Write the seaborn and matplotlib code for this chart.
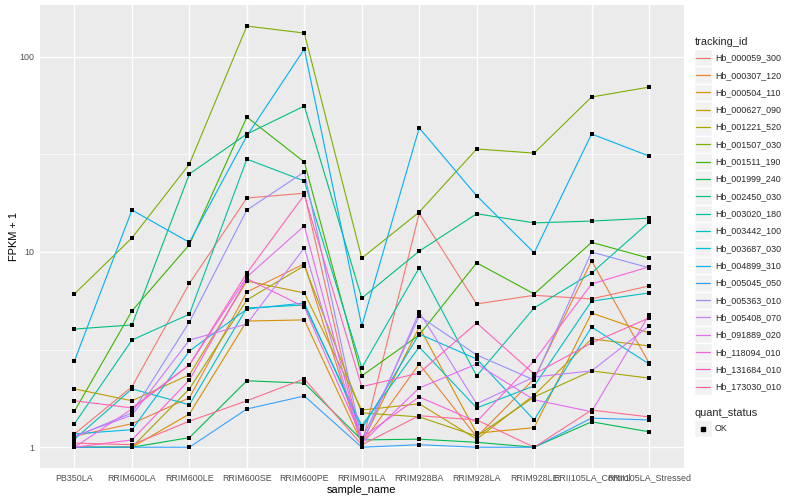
import matplotlib
matplotlib.use("Agg")
import matplotlib.pyplot as plt
from matplotlib.legend_handler import HandlerBase
from matplotlib.lines import Line2D
from matplotlib.patches import Rectangle
from matplotlib.ticker import FixedLocator, NullFormatter
import numpy as np
import pandas as pd
import seaborn as sns

# samples on the x axis, in plot order
samples = ["PB350LA", "RRIM600LA", "RRIM600LE", "RRIM600SE", "RRIM600PE",
           "RRIM901LA", "RRIM928BA", "RRIM928LA", "RRIM928LE",
           "RRII105LA_Control", "RRII105LA_Stressed"]

tracking_ids = ["Hb_000059_300", "Hb_000307_120", "Hb_000504_110", "Hb_000627_090",
                "Hb_001221_520", "Hb_001507_030", "Hb_001511_190", "Hb_001999_240",
                "Hb_002450_030", "Hb_003020_180", "Hb_003442_100", "Hb_003687_030",
                "Hb_004899_310", "Hb_005045_050", "Hb_005363_010", "Hb_005408_070",
                "Hb_091889_020", "Hb_118094_010", "Hb_131684_010", "Hb_173030_010"]

# FPKM + 1, one list per gene (same order as samples)
hb_000059_300 = [1.17, 2.04, 6.9, 18.9, 20.0, 1.03, 15.8, 5.42, 6.0, 5.75, 6.7]
hb_000307_120 = [1.14, 1.32, 1.79, 6.24, 8.7, 1.04, 2.67, 1.13, 2.24, 9.0, 2.7]
hb_000504_110 = [1.0, 1.0, 1.48, 4.43, 4.49, 1.05, 4.13, 1.18, 1.26, 4.87, 3.85]
hb_000627_090 = [1.99, 1.73, 2.35, 7.1, 6.17, 1.55, 1.67, 1.1, 1.85, 3.59, 3.3]
hb_001221_520 = [1.0, 1.0, 1.99, 5.68, 8.5, 1.5, 1.43, 1.14, 1.81, 2.46, 2.26]
hb_001507_030 = [6.1, 11.8, 28.2, 143.6, 132.2, 9.3, 16.0, 33.7, 32.1, 62.2, 69.9]
hb_001511_190 = [1.53, 4.99, 10.9, 49.1, 28.9, 2.32, 3.76, 8.8, 6.1, 11.2, 9.3]
hb_001999_240 = [1.0, 1.0, 1.12, 2.19, 2.13, 1.09, 1.1, 1.06, 1.0, 1.35, 1.2]
hb_002450_030 = [4.03, 4.23, 25.1, 40.2, 55.9, 5.8, 10.1, 15.7, 14.1, 14.4, 14.9]
hb_003020_180 = [1.32, 3.54, 4.8, 29.9, 23.1, 2.55, 8.3, 2.32, 5.17, 7.8, 14.2]
hb_003442_100 = [1.1, 1.99, 1.65, 5.17, 5.35, 1.29, 3.26, 1.59, 2.06, 5.6, 6.17]
hb_003687_030 = [1.17, 1.23, 3.11, 5.1, 5.48, 1.24, 3.8, 2.83, 1.38, 4.13, 2.67]
hb_004899_310 = [2.77, 16.4, 11.2, 39.3, 109.5, 4.18, 43.2, 19.4, 9.9, 40.2, 31.0]
hb_005045_050 = [1.0, 1.0, 1.0, 1.57, 1.83, 1.0, 1.03, 1.0, 1.0, 1.41, 1.38]
hb_005363_010 = [1.13, 1.5, 4.38, 16.4, 25.7, 1.09, 4.7, 2.97, 2.21, 10.0, 8.3]
hb_005408_070 = [1.14, 1.46, 3.54, 4.28, 10.5, 1.03, 4.93, 1.67, 2.29, 2.46, 4.18]
hb_091889_020 = [1.0, 1.57, 2.64, 7.45, 13.6, 1.05, 2.01, 2.67, 1.75, 1.52, 4.76]
hb_118094_010 = [1.0, 1.09, 2.21, 7.3, 5.23, 1.12, 1.81, 1.35, 2.77, 6.86, 8.4]
hb_131684_010 = [1.73, 1.59, 2.64, 7.8, 19.6, 2.04, 2.4, 4.33, 2.37, 3.42, 4.59]
hb_173030_010 = [1.05, 1.03, 1.36, 1.73, 2.24, 1.03, 1.45, 1.38, 1.0, 1.55, 1.43]

series = [hb_000059_300, hb_000307_120, hb_000504_110, hb_000627_090, hb_001221_520,
          hb_001507_030, hb_001511_190, hb_001999_240, hb_002450_030, hb_003020_180,
          hb_003442_100, hb_003687_030, hb_004899_310, hb_005045_050, hb_005363_010,
          hb_005408_070, hb_091889_020, hb_118094_010, hb_131684_010, hb_173030_010]

# ggplot2 default hue palette for 20 levels
palette = ["#F8766D", "#EA8331", "#D89000", "#C09B00", "#A3A500", "#7CAE00", "#39B600",
           "#00BB4E", "#00BF7D", "#00C1A3", "#00BFC4", "#00BAE0", "#00B0F6", "#35A2FF",
           "#9590FF", "#C77CFF", "#E76BF3", "#FA62DB", "#FF62BC", "#FF6C91"]

rows = []
for tid, vals in zip(tracking_ids, series):
    for s, v in zip(samples, vals):
        rows.append({"tracking_id": tid, "sample_name": s, "fpkm": v, "quant_status": "OK"})
df = pd.DataFrame(rows)


class KeyHandler(HandlerBase):
    """ggplot-like legend key: grey box with the glyph on top."""

    def create_artists(self, legend, orig_handle, xdescent, ydescent, width, height,
                       fontsize, trans):
        bg = Rectangle((-xdescent, -ydescent), width, height, facecolor="#F2F2F2",
                       edgecolor="white", linewidth=1.0, transform=trans)
        cy = -ydescent + height / 2
        if orig_handle.get_marker() not in (None, "None", ""):
            glyph = Line2D([-xdescent + width / 2], [cy], marker=orig_handle.get_marker(),
                           markersize=orig_handle.get_markersize(), color="black",
                           linestyle="None", transform=trans)
        else:
            glyph = Line2D([-xdescent + 1, -xdescent + width - 1], [cy, cy],
                           color=orig_handle.get_color(), linewidth=0.9, transform=trans)
        return [bg, glyph]


sns.set_theme(style="darkgrid", rc={"axes.facecolor": "#EBEBEB", "grid.color": "white"})
plt.rcParams["font.family"] = ["Liberation Sans", "DejaVu Sans"]

fig = plt.figure(figsize=(8, 5), dpi=100)
fig.patch.set_facecolor("white")
ax = fig.add_axes([0.05, 0.0634, 0.8044, 0.9266])

sns.lineplot(data=df, x="sample_name", y="fpkm", hue="tracking_id", hue_order=tracking_ids,
             palette=palette, estimator=None, sort=False, linewidth=0.8, legend=False, ax=ax)
sns.scatterplot(data=df, x="sample_name", y="fpkm", color="black", marker="s", s=7,
                linewidth=0, legend=False, ax=ax, zorder=3)

ax.set_yscale("log")
lo, hi = np.log10(df["fpkm"].min()), np.log10(df["fpkm"].max())
pad = 0.05 * (hi - lo)
ax.set_ylim(10 ** (lo - pad), 10 ** (hi + pad))
ax.set_xlim(-0.6, len(samples) - 0.4)
ax.yaxis.set_major_locator(FixedLocator([1, 10, 100]))
ax.set_yticklabels(["1", "10", "100"])
ax.yaxis.set_minor_locator(FixedLocator([10 ** 0.5, 10 ** 1.5]))
ax.yaxis.set_minor_formatter(NullFormatter())

ax.grid(which="major", color="white", linewidth=1.0)
ax.grid(which="minor", axis="y", color="white", linewidth=0.5)
ax.set_axisbelow(True)
for sp in ax.spines.values():
    sp.set_visible(False)

ax.tick_params(which="major", length=2, width=0.7, color="#333333", labelcolor="#4D4D4D",
               labelsize=6.4, pad=1.8)
ax.tick_params(which="minor", length=0)

ax.set_xlabel("sample_name", fontsize=7.9, color="black", labelpad=1.5)
ax.set_ylabel("FPKM + 1", fontsize=7.9, color="black", labelpad=0.8)

# legends on the right, ggplot style
key_h = 2.62  # row height works out to ~17px at this font size
line_handles = [Line2D([], [], color=c, linewidth=0.9) for c in palette]
leg1 = fig.legend(line_handles, tracking_ids, title="tracking_id", loc="upper left",
                  bbox_to_anchor=(0.868, 0.926), frameon=False, fontsize=6.4,
                  title_fontsize=7.9, handler_map={Line2D: KeyHandler()},
                  handlelength=1.95, handleheight=key_h, labelspacing=0,
                  handletextpad=0.35, borderpad=0, borderaxespad=0, alignment="left")
leg1._legend_box.sep = 1.5

pt_handle = [Line2D([], [], marker="s", markersize=2.4, color="black", linestyle="None")]
leg2 = fig.legend(pt_handle, ["OK"], title="quant_status", loc="upper left",
                  bbox_to_anchor=(0.868, 0.184), frameon=False, fontsize=6.4,
                  title_fontsize=7.9, handler_map={Line2D: KeyHandler()},
                  handlelength=1.95, handleheight=key_h, labelspacing=0,
                  handletextpad=0.35, borderpad=0, borderaxespad=0, alignment="left")
leg2._legend_box.sep = 1.5

fig.savefig("out.png", dpi=100)
